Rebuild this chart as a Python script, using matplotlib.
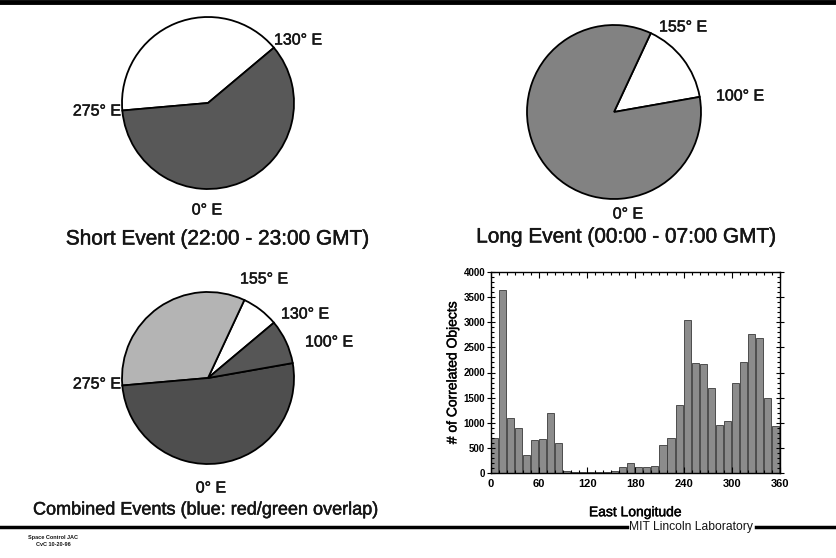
import numpy as np
import matplotlib.pyplot as plt
import matplotlib.patheffects as pe
from matplotlib.ticker import MultipleLocator

plt.rcParams['font.family'] = ['Liberation Sans', 'DejaVu Sans']

W, H = 836, 558

# pie sectors: (span in degrees of longitude), starting at the given east longitude, counter-clockwise
short_start = 130
short_sizes = [145, 215]          # 130->275 uncovered, 275->130 covered
long_start = 100
long_sizes = [55, 305]            # 100->155 uncovered, 155->100 covered
comb_start = 130
comb_sizes = [25, 120, 185, 30]   # 130->155 none, 155->275 long only, 275->100 overlap, 100->130 short only

# histogram of correlated objects per 10 deg of east longitude
lon_bins = np.arange(0, 360, 10)
counts = [690, 3650, 1090, 890, 360, 660, 680, 1190, 600, 40,
          20, 10, 10, 10, 20, 30, 110, 200, 110, 120,
          140, 560, 690, 1360, 3050, 2180, 2175, 1700, 960, 1040,
          1800, 2200, 2760, 2680, 1500, 940]
xticks = [0, 60, 120, 180, 240, 300, 360]
yticks = [0, 500, 1000, 1500, 2000, 2500, 3000, 3500, 4000]

thick = [pe.withStroke(linewidth=0.35, foreground='#151515')]


def px(x, y):
    return x / W, 1 - y / H


def draw_pie(cx, cy, r, sizes, start_lon, colors):
    ax = fig.add_axes([(cx - r) / W, 1 - (cy + r) / H, 2 * r / W, 2 * r / H])
    wedges, _ = ax.pie(sizes, colors=colors, startangle=270 + start_lon, counterclock=True,
                       wedgeprops=dict(edgecolor='black', linewidth=1.3))
    for w in wedges:
        w.set_clip_on(False)
    ax.set_xlim(-1, 1)
    ax.set_ylim(-1, 1)
    ax.axis('off')
    return ax


def label(x, y, s, size=11.5, ha='center', weight='normal', effects=thick):
    fig.text(*px(x, y), s, fontsize=size, ha=ha, va='center', color='#151515',
             fontweight=weight, path_effects=effects)


fig = plt.figure(figsize=(W / 100, H / 100), dpi=100)

# header / footer rules
fig.add_artist(plt.Line2D([0, 1], [1 - 2 / H, 1 - 2 / H], color='black', lw=3.5))
fig.add_artist(plt.Line2D([0, 627 / W], [1 - 527 / H] * 2, color='black', lw=2.5))
fig.add_artist(plt.Line2D([756 / W, 1], [1 - 527 / H] * 2, color='black', lw=2.5))
label(691, 527, 'MIT Lincoln Laboratory', size=8.7, effects=None)
label(53, 538, 'Space Control JAC', size=4, weight='bold', effects=None)
label(53, 545, 'CvC 10-20-96', size=4, weight='bold', effects=None)

# short event
draw_pie(208, 103, 86, short_sizes, short_start, ['white', '#585858'])
label(274, 40, '130° E', ha='left')
label(121, 111, '275° E', ha='right')
label(207, 210, '0° E')
label(218, 239, 'Short Event (22:00 - 23:00 GMT)', size=15)

# long event
draw_pie(614, 112, 87, long_sizes, long_start, ['white', '#828282'])
label(659, 27, '155° E', ha='left')
label(716, 96, '100° E', ha='left')
label(628, 214, '0° E')
label(627, 237, 'Long Event (00:00 - 07:00 GMT)', size=15)

# combined
draw_pie(208, 378, 86, comb_sizes, comb_start, ['white', '#b4b4b4', '#4e4e4e', '#565656'])
label(240, 279, '155° E', ha='left')
label(281, 314, '130° E', ha='left')
label(305, 342, '100° E', ha='left')
label(121, 384, '275° E', ha='right')
label(211, 488, '0° E')
label(33, 510, 'Combined Events (blue: red/green overlap)', size=13, ha='left')

# histogram
ax = fig.add_axes([490.7 / W, 1 - 473 / H, (780 - 490.7) / W, (473 - 272) / H])
ax.bar(lon_bins, counts, width=8.8, align='edge', color='#8c8c8c', edgecolor='#3a3a3a', linewidth=0.6)
ax.set_xlim(0, 360)
ax.set_ylim(0, 4000)
ax.set_xticks(xticks)
ax.set_yticks(yticks)
ax.xaxis.set_minor_locator(MultipleLocator(10))
ax.yaxis.set_minor_locator(MultipleLocator(100))
ax.tick_params(which='both', direction='in', top=True, right=True, width=0.8)
ax.tick_params(which='major', length=4)
ax.tick_params(which='minor', length=2)
ax.tick_params(axis='x', which='major', labelsize=8, pad=4)
ax.tick_params(axis='y', which='major', direction='inout', length=6, labelsize=7, pad=1)
for t in ax.get_xticklabels() + ax.get_yticklabels():
    t.set_fontweight('bold')
for s in ax.spines.values():
    s.set_linewidth(1.0)
ax.set_ylabel('# of Correlated Objects', fontsize=10, labelpad=3, path_effects=thick)
ax.set_xlabel('East Longitude', fontsize=10, labelpad=12, path_effects=thick)

fig.savefig('out.png', dpi=100)
